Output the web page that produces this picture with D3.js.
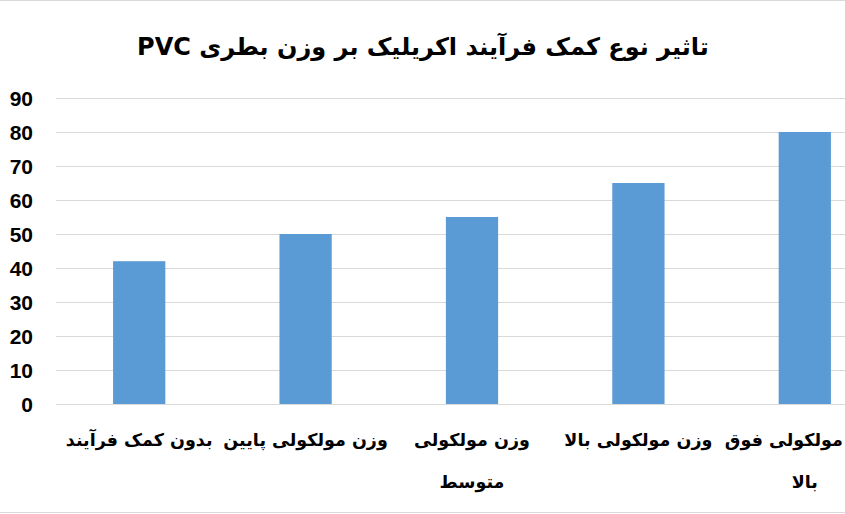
<!DOCTYPE html>
<html><head><meta charset="utf-8">
<script src="https://cdn.jsdelivr.net/npm/d3@7"></script>
<style>
html,body{margin:0;padding:0;background:#fff;}
svg{display:block;}
</style></head>
<body>
<script>
const title = "تاثیر نوع کمک فرآیند اکریلیک بر وزن بطری PVC";
const categories = ["بدون کمک فرآیند", "وزن مولکولی پایین", "وزن مولکولی متوسط", "وزن مولکولی بالا", "وزن مولکولی فوق بالا"];
const values = [42, 50, 55, 65, 80];
const yTicks = [0, 10, 20, 30, 40, 50, 60, 70, 80, 90];

const W = 845, H = 514;
const svg = d3.select("body").append("svg").attr("width", W).attr("height", H);
svg.append("rect").attr("width", W).attr("height", H).attr("fill", "#fff");
// chart border (top & bottom visible)
svg.append("line").attr("x1",0).attr("x2",W).attr("y1",0.5).attr("y2",0.5).attr("stroke","#d9d9d9");
svg.append("line").attr("x1",0).attr("x2",W).attr("y1",512.5).attr("y2",512.5).attr("stroke","#d9d9d9");

const plotL = 56, plotR = 888, plotT = 98, plotB = 404;
const x = d3.scaleBand().domain(categories).range([plotL, plotR]).paddingInner(0.686).paddingOuter(0.343);
const y = d3.scaleLinear().domain([0, 90]).range([plotB, plotT]);

// gridlines
svg.append("g").selectAll("line").data(yTicks).join("line")
  .attr("x1", plotL).attr("x2", plotR)
  .attr("y1", d => Math.round(y(d)) + 0.5).attr("y2", d => Math.round(y(d)) + 0.5)
  .attr("stroke", "#d9d9d9").attr("stroke-width", 1);

// y axis labels
const yAxis = d3.axisLeft(y).tickValues(yTicks).tickSize(0).tickPadding(0);
const ya = svg.append("g").attr("transform", "translate(33,0)").call(yAxis);
ya.select(".domain").remove();
ya.selectAll("text").attr("font-family", "'Liberation Sans', Arial, sans-serif")
  .attr("font-weight", "bold").attr("font-size", 21).attr("fill", "#000").attr("dy", "0.36em");

// bars
svg.append("g").selectAll("rect").data(values).join("rect")
  .attr("x", (d, i) => x(categories[i]))
  .attr("width", x.bandwidth())
  .attr("y", d => y(d))
  .attr("height", d => y(0) - y(d))
  .attr("fill", "#5b9bd5");

// category labels with wrapping
const labFont = "'DejaVu Sans', sans-serif";
const labSize = 17.5;
const maxW = x.step() + 2;
const meas = svg.append("text").attr("font-family", labFont).attr("font-size", labSize).attr("font-weight","bold");
function tw(s){ meas.text(s); return meas.node().getComputedTextLength(); }
function wrap(s){
  const words = s.split(" "); const lines = []; let cur = "";
  words.forEach(w => {
    const t = cur ? cur + " " + w : w;
    if (cur && tw(t) > maxW) { lines.push(cur); cur = w; } else cur = t;
  });
  if (cur) lines.push(cur);
  return lines;
}
const lg = svg.append("g");
categories.forEach(c => {
  const lines = wrap(c);
  const cx = x(c) + x.bandwidth() / 2;
  lines.forEach((ln, j) => {
    lg.append("text").attr("x", cx).attr("y", 446 + j * 42)
      .attr("text-anchor", "middle").attr("direction", "rtl")
      .attr("font-family", labFont).attr("font-size", labSize).attr("font-weight", "bold")
      .attr("fill", "#000").text(ln);
  });
});
meas.remove();

// title
svg.append("text").attr("x", 423).attr("y", 55).attr("text-anchor", "middle")
  .attr("direction", "rtl")
  .attr("font-family", "'DejaVu Sans', sans-serif").attr("font-weight", "bold").attr("font-size", 24)
  .attr("fill", "#000").text(title);
</script>
</body></html>
